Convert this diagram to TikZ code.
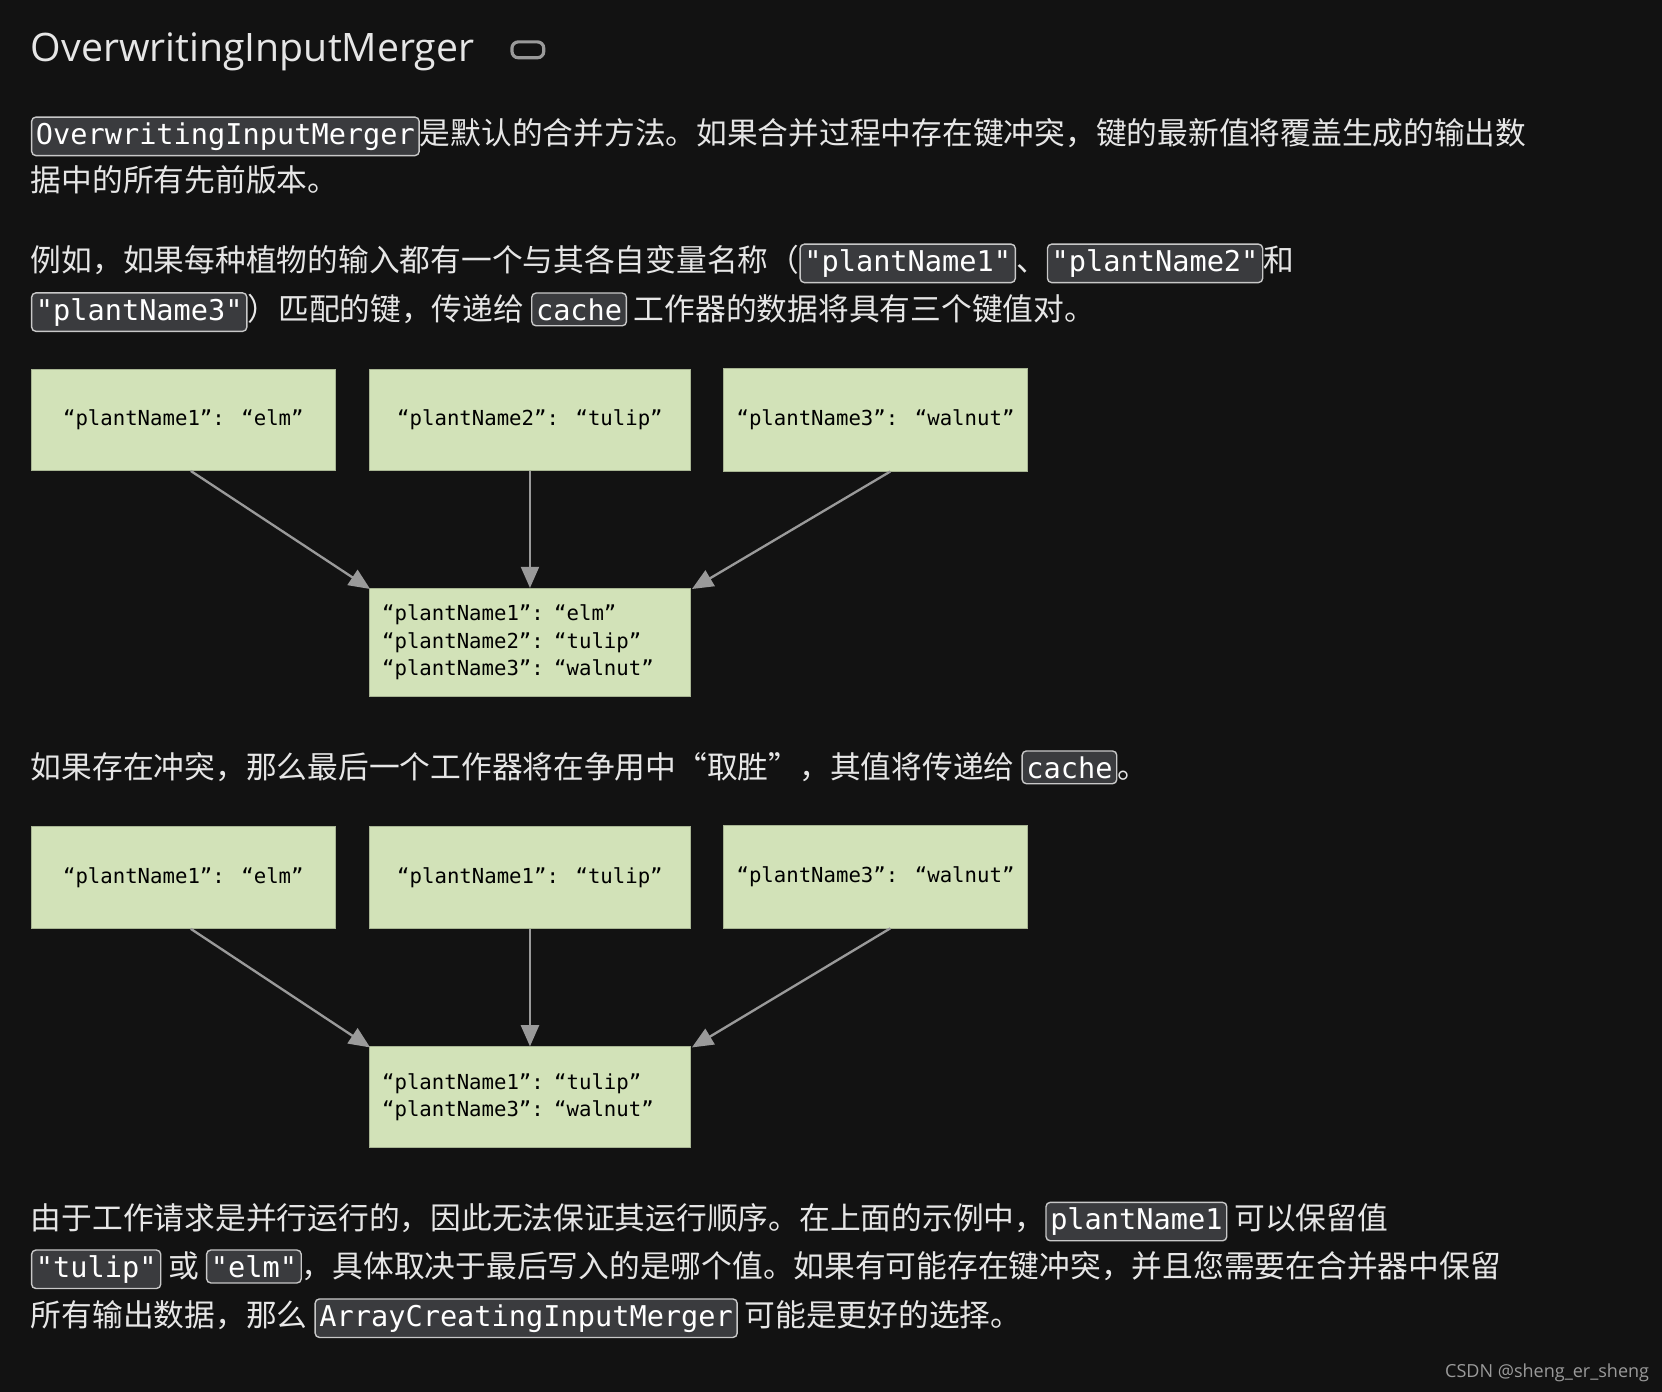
\documentclass[tikz,border=0pt]{standalone}
\usepackage{fontspec}
\setmainfont{Noto Sans CJK SC}
\newfontfamily\cjk{Noto Sans CJK SC}
\newfontfamily\monof{DejaVu Sans Mono}
\newfontfamily\titlef{Open Sans}
\usetikzlibrary{arrows.meta}
\definecolor{bg}{HTML}{121212}
\definecolor{txt}{HTML}{E6E6E6}
\definecolor{chipbg}{HTML}{3A3B3E}
\definecolor{chipbd}{HTML}{C8C8C8}
\definecolor{boxg}{HTML}{D2E2B8}
\definecolor{arr}{HTML}{9A9A9A}
\tikzset{
 chipnode/.style={draw=chipbd,fill=chipbg,rounded corners=4pt,line width=1.3pt,inner xsep=4pt,inner ysep=5pt,text=white,font=\monof\fontsize{27}{30}\selectfont},
 line/.style={anchor=base west,text=txt,font=\cjk\fontsize{29}{32}\selectfont,inner sep=0pt},
 gbox/.style={fill=boxg,draw=boxg!80!black,line width=0.6pt,font=\monof\fontsize{19.5}{26}\selectfont,text=black,align=left,inner sep=0pt},
 conn/.style={draw=arr,line width=2.2pt,-{Triangle[length=20pt,width=17pt]}}
}
\newcommand{\chip}[1]{\tikz[baseline=(c.base)]\node[chipnode](c){#1};}
\begin{document}
\begin{tikzpicture}[x=1pt,y=-1pt]
\fill[bg] (0,0) rectangle (1568,1313);
\useasboundingbox (0,0) rectangle (1568,1313);
\node[anchor=base west,text=txt,font=\titlef\fontsize{37}{40}\selectfont,inner sep=0pt] (title) at (29,58) {OverwritingInputMerger};
\node[draw=arr,line width=3pt,rounded corners=6pt,minimum width=30pt,minimum height=15pt,inner sep=0pt] (icon) at (498,47) {};
\node[line] (p1) at (29,136) {\chip{OverwritingInputMerger}是默认的合并方法。如果合并过程中存在键冲突，键的最新值将覆盖生成的输出数};
\node[line] (p2) at (29,181) {据中的所有先前版本。};
\node[line] (p3) at (29,256) {例如，如果每种植物的输入都有一个与其各自变量名称（\chip{"plantName1"}、\chip{"plantName2"}和};
\node[line] (p4) at (29,302) {\chip{"plantName3"}）匹配的键，传递给 \chip{cache} 工作器的数据将具有三个键值对。};
% diagram 1
\node[gbox,minimum width=287pt,minimum height=96pt] (a1) at (173,396) {“plantName1”: “elm”};
\node[gbox,minimum width=303pt,minimum height=96pt] (a2) at (500,396) {“plantName2”: “tulip”};
\node[gbox,minimum width=287pt,minimum height=97pt] (a3) at (826,396) {“plantName3”: “walnut”};
\node[gbox,minimum width=303pt,minimum height=102pt,inner xsep=12pt,text width=279pt] (m1) at (500,606) {“plantName1”: “elm”\\“plantName2”: “tulip”\\“plantName3”: “walnut”};
\draw[conn] ([xshift=-173+180]a1.south) -- ([xshift=1pt,yshift=-1pt]m1.north west);
\draw[conn] (a2.south) -- (m1.north);
\draw[conn] ([xshift=-826+840]a3.south) -- ([xshift=1pt,yshift=-1pt]m1.north east);
\node[line] (p5) at (29,734) {如果存在冲突，那么最后一个工作器将在争用中“取胜”，其值将传递给 \chip{cache}。};
% diagram 2
\node[gbox,minimum width=287pt,minimum height=96pt] (b1) at (173,828) {“plantName1”: “elm”};
\node[gbox,minimum width=303pt,minimum height=96pt] (b2) at (500,828) {“plantName1”: “tulip”};
\node[gbox,minimum width=287pt,minimum height=97pt] (b3) at (826,827) {“plantName3”: “walnut”};
\node[gbox,minimum width=303pt,minimum height=95pt,inner xsep=12pt,text width=279pt] (m2) at (500,1035) {“plantName1”: “tulip”\\“plantName3”: “walnut”};
\draw[conn] ([xshift=7pt]b1.south) -- ([xshift=1pt,yshift=-1pt]m2.north west);
\draw[conn] (b2.south) -- (m2.north);
\draw[conn] ([xshift=14pt]b3.south) -- ([xshift=1pt,yshift=-1pt]m2.north east);
\node[line] (p6) at (29,1160) {由于工作请求是并行运行的，因此无法保证其运行顺序。在上面的示例中，\chip{plantName1} 可以保留值};
\node[line] (p7) at (29,1205) {\chip{"tulip"} 或 \chip{"elm"}，具体取决于最后写入的是哪个值。如果有可能存在键冲突，并且您需要在合并器中保留};
\node[line] (p8) at (29,1251) {所有输出数据，那么 \chip{ArrayCreatingInputMerger} 可能是更好的选择。};
\node[anchor=base east,text=arr,font=\titlef\fontsize{17}{20}\selectfont,inner sep=0pt] (wm) at (1556,1300) {CSDN @sheng\_er\_sheng};
\end{tikzpicture}
\end{document}
